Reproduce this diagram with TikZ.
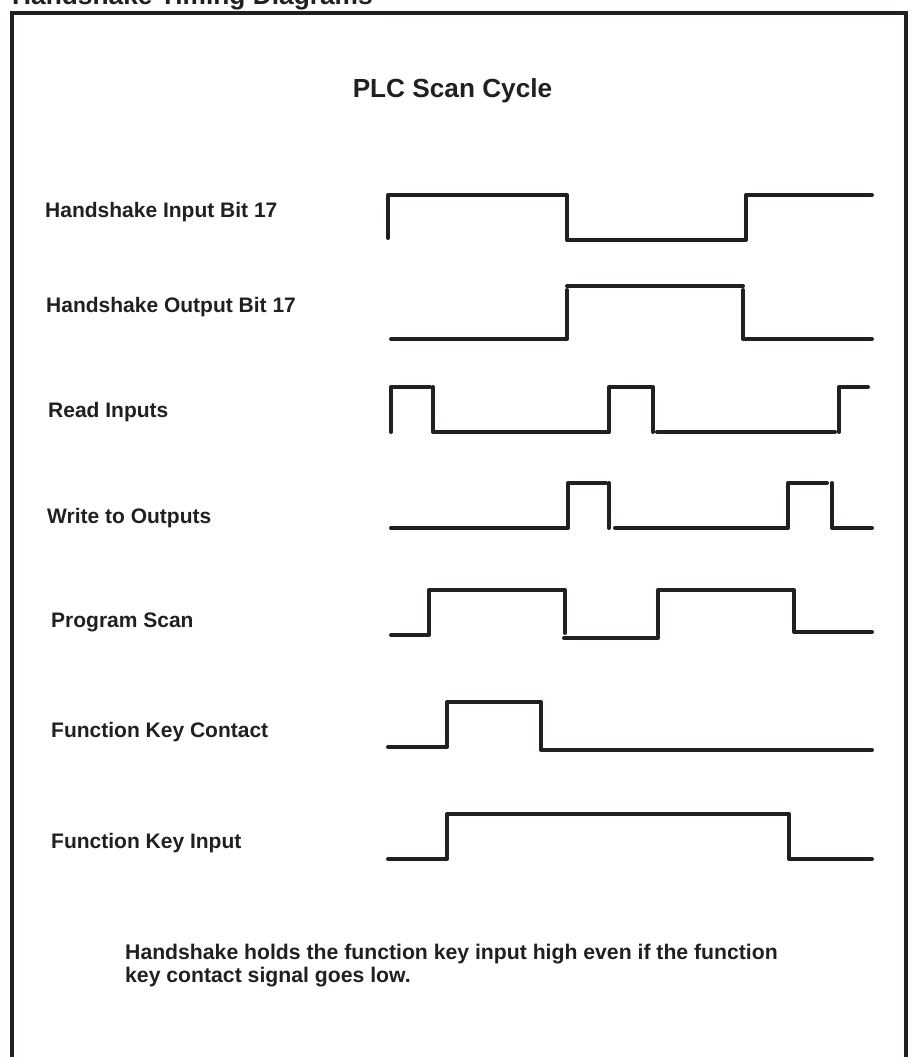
\documentclass[tikz,border=0pt]{standalone}
\usepackage{fontspec}
\setmainfont{Liberation Sans}
\definecolor{ink}{HTML}{231F20}
\begin{document}
\begin{tikzpicture}[x=1pt,y=-1pt,
  wave/.style={draw=ink,line width=4pt,line cap=round,line join=round},
  frame/.style={draw=ink,line width=4pt,line cap=round},
  lbl/.style={anchor=base west,inner sep=0pt,text=ink,font=\bfseries\fontsize{21}{24}\selectfont},
  ttl/.style={anchor=base,inner sep=0pt,text=ink,font=\bfseries\fontsize{26.2}{30}\selectfont},
  note/.style={anchor=base west,inner sep=0pt,text=ink,align=left,font=\bfseries\fontsize{21.2}{23}\selectfont}]
\useasboundingbox (0,0) rectangle (911,1057);
% frame
\draw[frame] (12,1070) -- (12,13) -- (906,13) -- (906,1070);
% title and heading
\node[anchor=base west,inner sep=0pt,text=ink,font=\bfseries\fontsize{26.3}{30}\selectfont] (title) at (12,5) {Handshake Timing Diagrams};
\node[ttl] (plc) at (452.5,97) {PLC Scan Cycle};
% labels
\node[lbl] (l1) at (45,217) {Handshake Input Bit 17};
\node[lbl] (l2) at (46,312) {Handshake Output Bit 17};
\node[lbl] (l3) at (48,417) {Read Inputs};
\node[lbl] (l4) at (47,523) {Write to Outputs};
\node[lbl] (l5) at (51,627) {Program Scan};
\node[lbl] (l6) at (51,737) {Function Key Contact};
\node[lbl] (l7) at (51,848) {Function Key Input};
% waveforms
\draw[wave] (388,238) -- (388,195) -- (567,195) -- (567,240) -- (746,240) -- (746,195) -- (872,195);
\draw[wave] (391,339) -- (567,339) -- (567,290);
\draw[wave] (567,286) -- (743,286);
\draw[wave] (743,290) -- (743,339) -- (872,339);
\draw[wave] (391,432) -- (391,387) -- (430,387);
\draw[wave] (433,387) -- (433,432) -- (609,432) -- (609,387) -- (653,387) -- (653,432);
\draw[wave] (657,432) -- (835,432);
\draw[wave] (839,432) -- (839,387) -- (868,387);
\draw[wave] (391,528) -- (568,528) -- (568,483) -- (606,483);
\draw[wave] (609,483) -- (609,528);
\draw[wave] (615,528) -- (788,528) -- (788,483) -- (827,483);
\draw[wave] (832,483) -- (832,528) -- (872,528);
\draw[wave] (391,635) -- (429,635) -- (429,590) -- (565,590) -- (565,633);
\draw[wave] (564,638) -- (658,638) -- (658,590) -- (794,590) -- (794,632) -- (872,632);
\draw[wave] (388,747) -- (447,747) -- (447,702) -- (541,702) -- (541,750) -- (872,750);
\draw[wave] (388,859) -- (447,859) -- (447,814) -- (789,814) -- (789,859) -- (872,859);
% note
\node[note] (nt) at (125,982) {Handshake holds the function key input high even if the function\\key contact signal goes low.};
\end{tikzpicture}
\end{document}
